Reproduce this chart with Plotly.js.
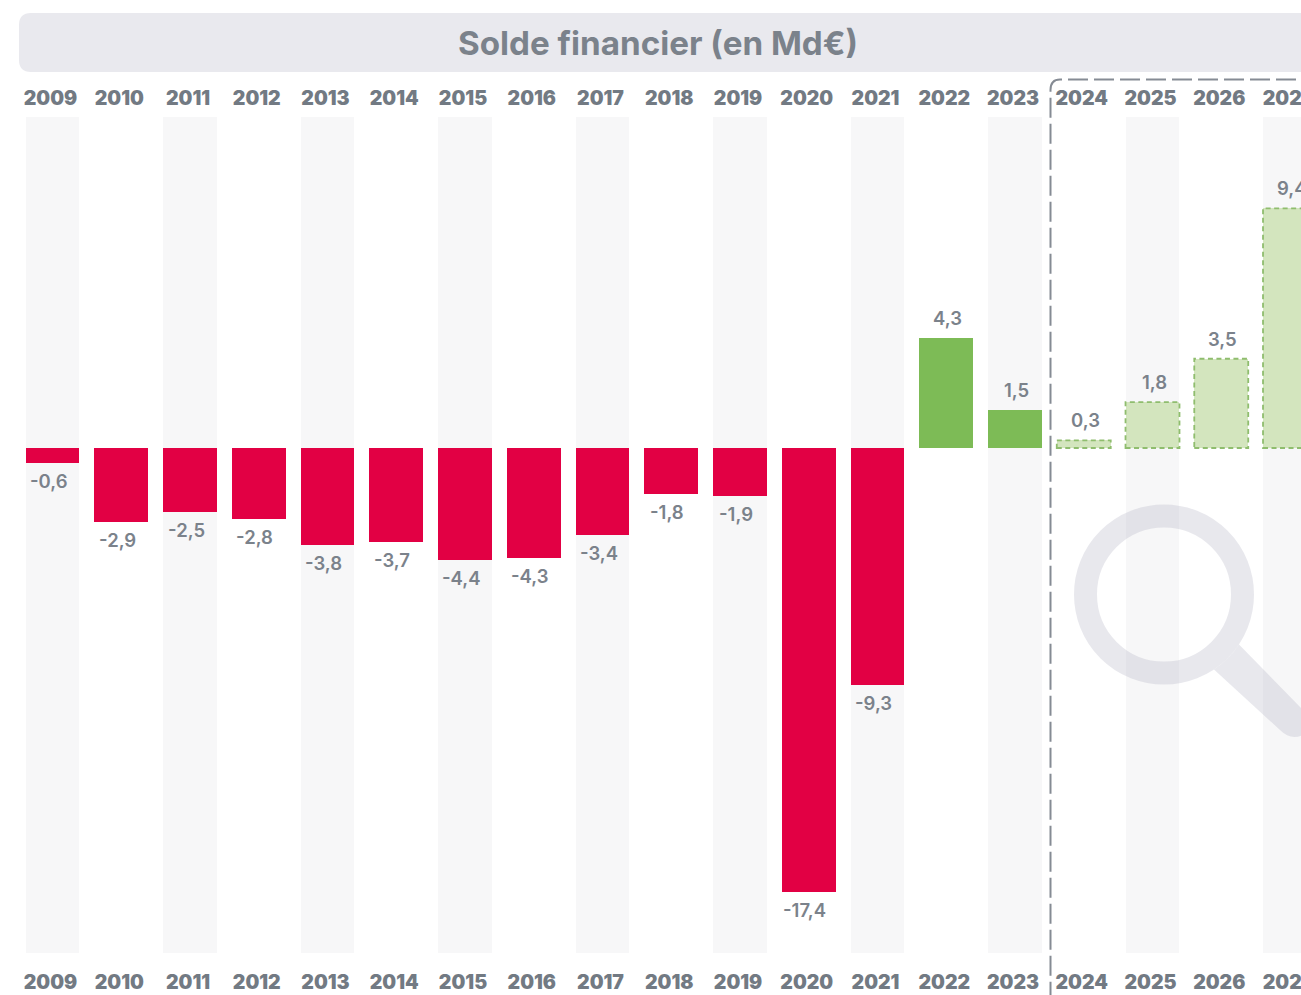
<!DOCTYPE html>
<html><head><meta charset="utf-8">
<script src="https://cdn.plot.ly/plotly-3.0.1.min.js"></script>
<style>html,body{margin:0;padding:0;background:#fff;overflow:hidden}#c{width:1400px;height:995px}</style>
</head><body><div id="c"></div>
<script>
const years = [2009,2010,2011,2012,2013,2014,2015,2016,2017,2018,2019,2020,2021,2022,2023,2024,2025,2026,2027];
const values = [-0.6,-2.9,-2.5,-2.8,-3.8,-3.7,-4.4,-4.3,-3.4,-1.8,-1.9,-17.4,-9.3,4.3,1.5,0.3,1.8,3.5,9.4];
const labels = ['-0,6','-2,9','-2,5','-2,8','-3,8','-3,7','-4,4','-4,3','-3,4','-1,8','-1,9','-17,4','-9,3','4,3','1,5','0,3','1,8','3,5','9,4'];
const forecastFrom = 2024;
const chartTitle = 'Solde financier (en Md€)';

// The canvas runs past the 1301px window so the last column is cut by the window edge, as in the reference.
const W = 1400, H = 995, plotTop = 117, plotBottom = 953;
const FONT = 'Inter, "Open Sans", sans-serif';
const RED = '#e20044', GREEN = '#7dbb56', LIGHT = '#d3e5be', DASHGREEN = '#8fbd6e';
const GREY = '#7b828b', TICK = '#727a83';
const step = 68.75, barW = 0.785, pxPerUnit = 25.5, zeroY = 448;
const xRange = [2009 - 52.5/step, 2009 + (W-52.5)/step];
const yRange = [(zeroY-plotBottom)/pxPerUnit, (zeroY-plotTop)/pxPerUnit];

const px = x => x / W;
const py = y => (plotBottom - y) / (plotBottom - plotTop);
const isF = y => y >= forecastFrom;
const stripeYears = years.filter((y,i) => i % 2 === 0);

const traces = [
  {type:'bar', x:stripeYears, y:stripeYears.map(()=>yRange[1]-yRange[0]), base:yRange[0], width:barW,
   marker:{color:'#f7f7f8'}, xaxis:'x', yaxis:'y', hoverinfo:'skip', showlegend:false},
  {type:'bar', x:years, y:values, width:barW, xaxis:'x2', yaxis:'y', hoverinfo:'skip', showlegend:false,
   marker:{color:years.map((y,i)=>isF(y)?LIGHT:(values[i]<0?RED:GREEN)), line:{width:0}}}
];

const annotations = years.map((y,i)=>({
  x:y, y:values[i], xref:'x2', yref:'y', text:labels[i], showarrow:false,
  xanchor:'center', yanchor:'middle',
  xshift: values[i]<0 ? -4 : 1.5,
  yshift: values[i]<0 ? -18 : 20,
  font:{family:FONT, size:18.5, color:GREY, weight:600}
}));

const shapes = [];
// title panel
shapes.push({type:'path', xref:'paper', yref:'paper', layer:'below', line:{width:0}, fillcolor:'#e9e9ee',
  path:`M${px(1400)},${py(13)} L${px(31)},${py(13)} Q${px(19)},${py(13)} ${px(19)},${py(25)} L${px(19)},${py(60)} Q${px(19)},${py(72)} ${px(31)},${py(72)} L${px(1400)},${py(72)} Z`});
// forecast frame
shapes.push({type:'path', xref:'paper', yref:'paper', layer:'above', fillcolor:'rgba(0,0,0,0)',
  line:{color:'#858b94', width:2, dash:'20px,6px'},
  path:`M${px(1400)},${py(79.5)} L${px(1060)},${py(79.5)} Q${px(1050.5)},${py(79.5)} ${px(1050.5)},${py(90)} L${px(1050.5)},${py(1000)}`});
// dashed outlines of forecast bars
years.forEach((y,i)=>{ if(isF(y)) shapes.push({type:'rect', xref:'x2', yref:'y', layer:'above',
  x0:y-barW/2, x1:y+barW/2, y0:0, y1:values[i], fillcolor:'rgba(0,0,0,0)',
  line:{color:DASHGREEN, width:1.8, dash:'5px,3.5px'}}); });
// magnifier
const glass = 'rgba(170,170,188,0.27)';
shapes.push({type:'circle', xref:'paper', yref:'paper', layer:'above', fillcolor:'rgba(0,0,0,0)',
  x0:px(1164-78.5), x1:px(1164+78.5), y0:py(594.5-78.5), y1:py(594.5+78.5), line:{color:glass, width:23}});
shapes.push({type:'path', xref:'paper', yref:'paper', layer:'above', fillcolor:glass, line:{width:0},
  path:`M${px(1239)},${py(644.4)} L${px(1303)},${py(710)} C${px(1312)},${py(720)} ${px(1312)},${py(727)} ${px(1306)},${py(732)} C${px(1298)},${py(740)} ${px(1288)},${py(738)} ${px(1280)},${py(730)} L${px(1214)},${py(669.4)} C${px(1223.9)},${py(662.8)} ${px(1232.4)},${py(654.3)} ${px(1239)},${py(644.4)} Z`});

const axisBase = {type:'linear', range:xRange, tickmode:'array', tickvals:years, ticktext:years.map(String),
  showgrid:false, zeroline:false, showline:false, ticks:'outside', tickcolor:'rgba(0,0,0,0)', tickwidth:0,
  ticklabelshift:-2,
  tickfont:{family:FONT, size:19.5, color:TICK, weight:900}, automargin:false, fixedrange:true};

const layout = {
  width:W, height:H, paper_bgcolor:'#fff', plot_bgcolor:'rgba(0,0,0,0)',
  margin:{l:0,r:0,t:plotTop,b:H-plotBottom,pad:0}, bargap:0, barmode:'overlay', showlegend:false,
  title:{text:chartTitle, x:658/W, xanchor:'center', xref:'container', y:1-43/H, yref:'container', yanchor:'middle',
         font:{family:FONT, size:33.2, color:GREY, weight:700}},
  xaxis:Object.assign({}, axisBase, {side:'bottom', anchor:'y', ticklen:12}),
  xaxis2:Object.assign({}, axisBase, {side:'top', anchor:'y', overlaying:'x', ticklen:3}),
  yaxis:{range:yRange, visible:false, fixedrange:true},
  annotations, shapes
};
Plotly.newPlot('c', traces, layout, {displayModeBar:false, staticPlot:true});
</script></body></html>
